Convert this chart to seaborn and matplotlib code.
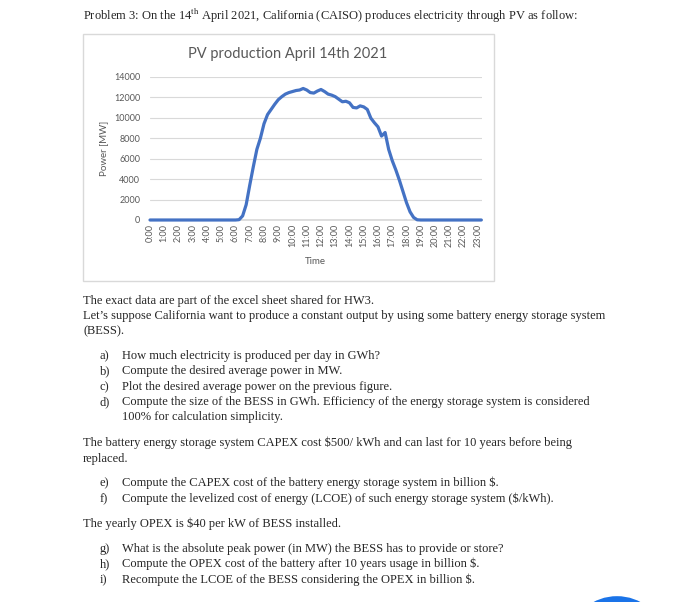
import numpy as np
import matplotlib
matplotlib.use("Agg")
import matplotlib.pyplot as plt
from matplotlib.patches import Rectangle, Circle
import seaborn as sns

# PV output, 15 minute steps from 0:00 to 23:15
power_mw = [
    0, 0, 0, 0, 0, 0, 0, 0, 0, 0, 0, 0, 0, 0, 0, 0, 0, 0, 0, 0, 0, 0, 0, 0, 0,
    30, 400, 1500, 3400, 5200, 6900, 8000, 9400, 10300, 10800, 11300,
    11750, 12050, 12300, 12450, 12550, 12650, 12700, 12850, 12700, 12450,
    12400, 12600, 12750, 12550, 12300, 12200, 12050, 11800, 11550, 11600,
    11450, 11000, 10950, 11150, 11050, 10800, 9950, 9500, 9100, 8200,
    8550, 6900, 5800, 4900, 3900, 2800, 1700, 800, 250, 20,
    0, 0, 0, 0, 0, 0, 0, 0, 0, 0, 0, 0, 0, 0, 0, 0, 0, 0,
]
hour_labels = ["0:00", "1:00", "2:00", "3:00", "4:00", "5:00", "6:00", "7:00",
               "8:00", "9:00", "10:00", "11:00", "12:00", "13:00", "14:00",
               "15:00", "16:00", "17:00", "18:00", "19:00", "20:00", "21:00",
               "22:00", "23:00"]
y_ticks = [0, 2000, 4000, 6000, 8000, 10000, 12000, 14000]

header = ("Problem 3: On the 14$^{\\rm th}$ April 2021, California (CAISO) "
          "produces electricity through PV as follow:")
body_lines = [
    (83, 301, "The exact data are part of the excel sheet shared for HW3."),
    (83, 316, "Let\u2019s suppose California want to produce a constant output by using some battery energy storage system"),
    (83, 331, "(BESS)."),
    (100, 356, "a)"), (122, 356, "How much electricity is produced per day in GWh?"),
    (100, 371, "b)"), (122, 371, "Compute the desired average power in MW."),
    (100, 387, "c)"), (122, 387, "Plot the desired average power on the previous figure."),
    (100, 402, "d)"), (122, 402, "Compute the size of the BESS in GWh. Efficiency of the energy storage system is considered"),
    (122, 417, "100% for calculation simplicity."),
    (83, 443, "The battery energy storage system CAPEX cost \\$500/ kWh and can last for 10 years before being"),
    (83, 459, "replaced."),
    (100, 483, "e)"), (122, 483, "Compute the CAPEX cost of the battery energy storage system in billion \\$."),
    (100, 499, "f)"), (122, 499, "Compute the levelized cost of energy (LCOE) of such energy storage system (\\$/kWh)."),
    (83, 524, "The yearly OPEX is \\$40 per kW of BESS installed."),
    (100, 549, "g)"), (122, 549, "What is the absolute peak power (in MW) the BESS has to provide or store?"),
    (100, 564, "h)"), (122, 564, "Compute the OPEX cost of the battery after 10 years usage in billion \\$."),
    (100, 580, "i)"), (122, 580, "Recompute the LCOE of the BESS considering the OPEX in billion \\$."),
]

sns.set_theme(style="white")
plt.rcParams["font.family"] = ["Lato", "DejaVu Sans"]
plt.rcParams["mathtext.fontset"] = "stix"

W, H = 700, 602
fig = plt.figure(figsize=(W / 100, H / 100), dpi=100)
fig.patch.set_facecolor("white")


def fx(x):
    return x / W


def fy(y):
    return 1 - y / H


serif = ["Liberation Serif", "DejaVu Serif"]
fig.text(fx(83), fy(16), header, fontsize=9, family=serif, va="center")
for x, y, s in body_lines:
    fig.text(fx(x), fy(y), s, fontsize=9, family=serif, va="center")

# chart frame
fig.patches.append(Rectangle((fx(83), fy(281)), fx(494) - fx(83), fy(34) - fy(281),
                             transform=fig.transFigure, fill=False,
                             edgecolor="#d9d9d9", linewidth=1))

ax = fig.add_axes([fx(150), fy(220), (482 - 150) / W, (220 - 76.7) / H])
times = np.arange(len(power_mw)) * 0.25
sns.lineplot(x=times, y=power_mw, ax=ax, color="#4472C4", linewidth=2.3,
             clip_on=False, zorder=5)

ax.set_xlim(0, 23.3)
ax.set_ylim(0, 14000)
ax.set_xticks(range(len(hour_labels)))
ax.set_xticklabels(hour_labels, rotation=90, fontsize=6.5, color="#595959")
ax.set_yticks(y_ticks)
ax.set_yticklabels([str(v) for v in y_ticks], fontsize=6.5, color="#595959")
ax.tick_params(axis="both", length=0)
ax.tick_params(axis="y", pad=7)
ax.tick_params(axis="x", pad=3)
ax.grid(axis="y", color="#d9d9d9", linewidth=0.8)
ax.set_axisbelow(True)
for side in ["top", "right", "left"]:
    ax.spines[side].set_visible(False)
ax.spines["bottom"].set_color("#d9d9d9")
ax.spines["bottom"].set_zorder(0.5)
ax.set_xlabel("")
ax.set_ylabel("")

fig.text(fx(288), fy(54), "PV production April 14th 2021", fontsize=10.5,
         color="#595959", ha="center", va="center")
fig.text(fx(315), fy(261), "Time", fontsize=7, color="#595959",
         ha="center", va="center")
fig.text(fx(104), fy(148), "Power [MW]", fontsize=7, color="#595959",
         ha="center", va="center", rotation=90)

# blue round button peeking in at the bottom right
fig.patches.append(Circle((fx(617), fy(634)), 44 / W, transform=fig.transFigure,
                          facecolor="#1a73e8", edgecolor="none"))

fig.savefig("out.png", dpi=100)
